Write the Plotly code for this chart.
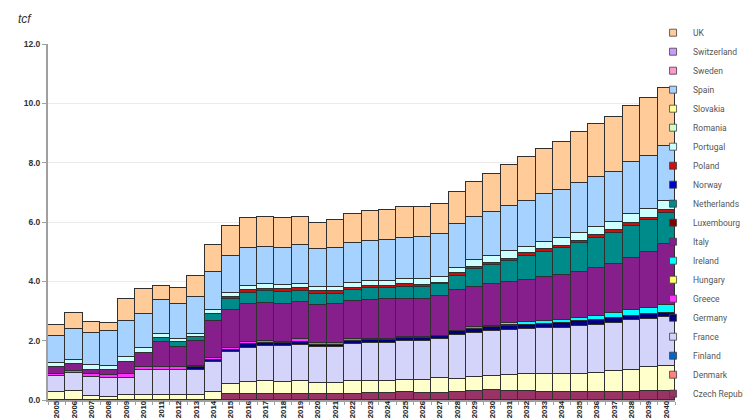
import plotly.graph_objects as go

years = ["2005", "2006", "2007", "2008", "2009", "2010", "2011", "2012", "2013", "2014",
         "2015", "2016", "2017", "2018", "2019", "2020", "2021", "2022", "2023", "2024",
         "2025", "2026", "2027", "2028", "2029", "2030", "2031", "2032", "2033", "2034",
         "2035", "2036", "2037", "2038", "2039", "2040"]

czech = [0, 0, 0, 0, 0, 0, 0, 0, 0, 0,
         0.20, 0.20, 0.20, 0.20, 0.20, 0.20, 0.20, 0.20, 0.24, 0.24,
         0.26, 0.24, 0.24, 0.27, 0.29, 0.33, 0.32, 0.29, 0.27, 0.27,
         0.27, 0.27, 0.27, 0.27, 0.29, 0.29]
denmark = [0.27, 0.32, 0.15, 0.11, 0.18, 0.18, 0.18, 0.18, 0.18, 0.27,
           0.34, 0.41, 0.43, 0.41, 0.43, 0.37, 0.37, 0.43, 0.39, 0.39,
           0.40, 0.45, 0.50, 0.45, 0.49, 0.47, 0.51, 0.57, 0.59, 0.59,
           0.61, 0.64, 0.70, 0.75, 0.81, 0.85]
finland = [0] * 36
france = [0.55, 0.60, 0.63, 0.62, 0.57, 0.83, 0.83, 0.83, 0.83, 1.01,
          1.08, 1.15, 1.18, 1.20, 1.22, 1.21, 1.22, 1.26, 1.30, 1.30,
          1.32, 1.31, 1.32, 1.46, 1.48, 1.52, 1.52, 1.52, 1.57, 1.57,
          1.61, 1.63, 1.63, 1.66, 1.64, 1.66]
germany = [0, 0, 0, 0, 0, 0, 0, 0, 0.09, 0.07,
           0.06, 0.14, 0.12, 0.10, 0.11, 0.09, 0.08, 0.09, 0.09, 0.09,
           0.10, 0.10, 0.09, 0.13, 0.15, 0.15, 0.15, 0.14, 0.14, 0.17,
           0.17, 0.14, 0.17, 0.15, 0.17, 0.14]
greece = [0.07, 0.07, 0.08, 0.10, 0.11, 0.09, 0.09, 0.09, 0.06, 0.05,
          0.08, 0.06, 0.07, 0.05, 0.08, 0.06, 0.06, 0.06, 0.04, 0.04,
          0.04, 0.02, 0.02, 0.03, 0.05, 0.04, 0.04, 0.02, 0, 0,
          0, 0, 0, 0, 0, 0]
hungary = [0] * 36
ireland = [0, 0, 0, 0, 0, 0, 0, 0, 0, 0,
           0, 0, 0, 0, 0, 0, 0, 0, 0, 0,
           0, 0, 0, 0, 0, 0, 0.06, 0.08, 0.09, 0.09,
           0.11, 0.15, 0.15, 0.20, 0.20, 0.26]
italy = [0.21, 0.22, 0.16, 0.17, 0.43, 0.47, 0.84, 0.68, 0.82, 1.26,
         1.29, 1.28, 1.28, 1.29, 1.27, 1.27, 1.29, 1.29, 1.31, 1.33,
         1.30, 1.30, 1.33, 1.37, 1.36, 1.39, 1.39, 1.44, 1.49, 1.52,
         1.55, 1.61, 1.67, 1.77, 1.89, 2.07]
luxembourg = [0] * 36
netherlands = [0, 0, 0, 0, 0, 0, 0.14, 0.18, 0.16, 0.25,
               0.35, 0.37, 0.39, 0.40, 0.38, 0.36, 0.36, 0.38, 0.39, 0.37,
               0.39, 0.39, 0.40, 0.47, 0.58, 0.65, 0.70, 0.79, 0.85, 0.90,
               0.96, 1.03, 1.05, 1.07, 1.06, 1.05]
norway = [0] * 36
poland = [0, 0, 0, 0, 0, 0, 0, 0, 0, 0,
          0.08, 0.11, 0.08, 0.10, 0.07, 0.11, 0.09, 0.07, 0.07, 0.07,
          0.09, 0.07, 0.05, 0.09, 0.08, 0.08, 0.07, 0.09, 0.08, 0.08,
          0.08, 0.09, 0.09, 0.09, 0.09, 0.08]
portugal = [0.14, 0.15, 0.15, 0.13, 0.17, 0.18, 0.15, 0.08, 0.10, 0.14,
            0.13, 0.12, 0.15, 0.12, 0.16, 0.14, 0.15, 0.15, 0.18, 0.18,
            0.19, 0.19, 0.21, 0.19, 0.23, 0.22, 0.26, 0.23, 0.26, 0.28,
            0.28, 0.27, 0.27, 0.30, 0.30, 0.31]
romania = [0] * 36
slovakia = [0] * 36
spain = [0.93, 1.05, 1.08, 1.18, 1.20, 1.14, 1.13, 1.18, 1.23, 1.26,
         1.24, 1.28, 1.26, 1.27, 1.31, 1.29, 1.32, 1.35, 1.35, 1.38,
         1.38, 1.42, 1.43, 1.46, 1.46, 1.49, 1.52, 1.54, 1.60, 1.60,
         1.67, 1.69, 1.70, 1.75, 1.76, 1.86]
sweden = [0] * 36
switzerland = [0] * 36
uk = [0.35, 0.51, 0.37, 0.28, 0.75, 0.84, 0.48, 0.56, 0.71, 0.92,
      1.02, 1.01, 1.01, 0.99, 0.94, 0.88, 0.93, 0.98, 1.01, 1.02,
      1.04, 1.02, 1.03, 1.10, 1.18, 1.27, 1.38, 1.49, 1.52, 1.64,
      1.71, 1.78, 1.85, 1.91, 1.97, 1.94]

series_names = ["Czech Republic", "Denmark", "Finland", "France", "Germany", "Greece",
                "Hungary", "Ireland", "Italy", "Luxembourg", "Netherlands", "Norway",
                "Poland", "Portugal", "Romania", "Slovakia", "Spain", "Sweden",
                "Switzerland", "UK"]
series_values = [czech, denmark, finland, france, germany, greece, hungary, ireland,
                 italy, luxembourg, netherlands, norway, poland, portugal, romania,
                 slovakia, spain, sweden, switzerland, uk]
bar_colors = ["#993366", "#FFFFCC", "#0066CC", "#D4D4FA", "#000080", "#FF33FF",
              "#FFFF66", "#00FFFF", "#861F8C", "#800000", "#008B8B", "#0000CC",
              "#CC1010", "#CCFFFF", "#CCFFCC", "#FFFF99", "#A6D2FF", "#FF99CC",
              "#CC99FF", "#FFCC99"]
legend_colors = ["#993366", "#FF8080", "#0066CC", "#D4D4FA", "#000080", "#FF33FF",
                 "#FFFF66", "#00FFFF", "#861F8C", "#800000", "#008B8B", "#0000CC",
                 "#CC1010", "#CCFFFF", "#CCFFCC", "#FFFF99", "#A6D2FF", "#FF99CC",
                 "#CC99FF", "#FFCC99"]

fig = go.Figure()
for name, vals, col in zip(series_names, series_values, bar_colors):
    fig.add_trace(go.Bar(
        x=years, y=vals, name=name, showlegend=False,
        marker=dict(color=col, line=dict(color="#303030", width=1)),
    ))
for name, col in zip(series_names, legend_colors):
    fig.add_trace(go.Scatter(
        x=[None], y=[None], name=name, mode="markers", showlegend=True,
        marker=dict(symbol="square", size=7, color=col, line=dict(color="#404040", width=0.8)),
    ))

fig.update_layout(
    width=751, height=418,
    margin=dict(l=40, r=84, t=36, b=26, autoexpand=False),
    barmode="stack", bargap=0,
    plot_bgcolor="white", paper_bgcolor="white",
    font=dict(family="Roboto, Liberation Sans, Arial", size=10, color="#333333"),
    legend=dict(
        x=0.965, xanchor="left", y=1.0725, yanchor="top",
        traceorder="reversed", itemwidth=30,
        font=dict(family="Roboto, Liberation Sans, Arial", size=8.5, color="#555555"),
        bgcolor="rgba(0,0,0,0)",
    ),
    annotations=[dict(
        text="tcf", xref="paper", yref="paper", x=-0.051, y=1.07,
        xanchor="left", yanchor="middle", showarrow=False,
        font=dict(family="Liberation Sans", size=12, color="#333333", style="italic"),
    )],
)
try:
    fig.update_layout(legend_maxheight=1.0)
except Exception:
    pass

fig.update_yaxes(
    range=[0, 12], tickvals=[0, 2, 4, 6, 8, 10, 12], tickformat=".1f",
    showgrid=True, gridcolor="#EBEBEB", gridwidth=1,
    showline=True, linecolor="#A0A0A0", linewidth=2,
    ticks="outside", ticklen=4, tickcolor="#A0A0A0",
    tickfont=dict(family="Liberation Sans", size=8.5, color="#333333", weight="bold"),
    zeroline=False,
)
fig.update_xaxes(
    type="category", tickangle=-90, automargin=False,
    showline=True, linecolor="#A0A0A0", linewidth=1.5,
    ticks="outside", ticklen=3, tickcolor="#A0A0A0", tickson="boundaries",
    tickfont=dict(family="Liberation Sans", size=7.8, color="#222222", weight="bold"),
    range=[-0.5, 35.5],
)
try:
    fig.update_xaxes(ticklabelstandoff=-4)
except Exception:
    pass

fig.write_html("out.html")
